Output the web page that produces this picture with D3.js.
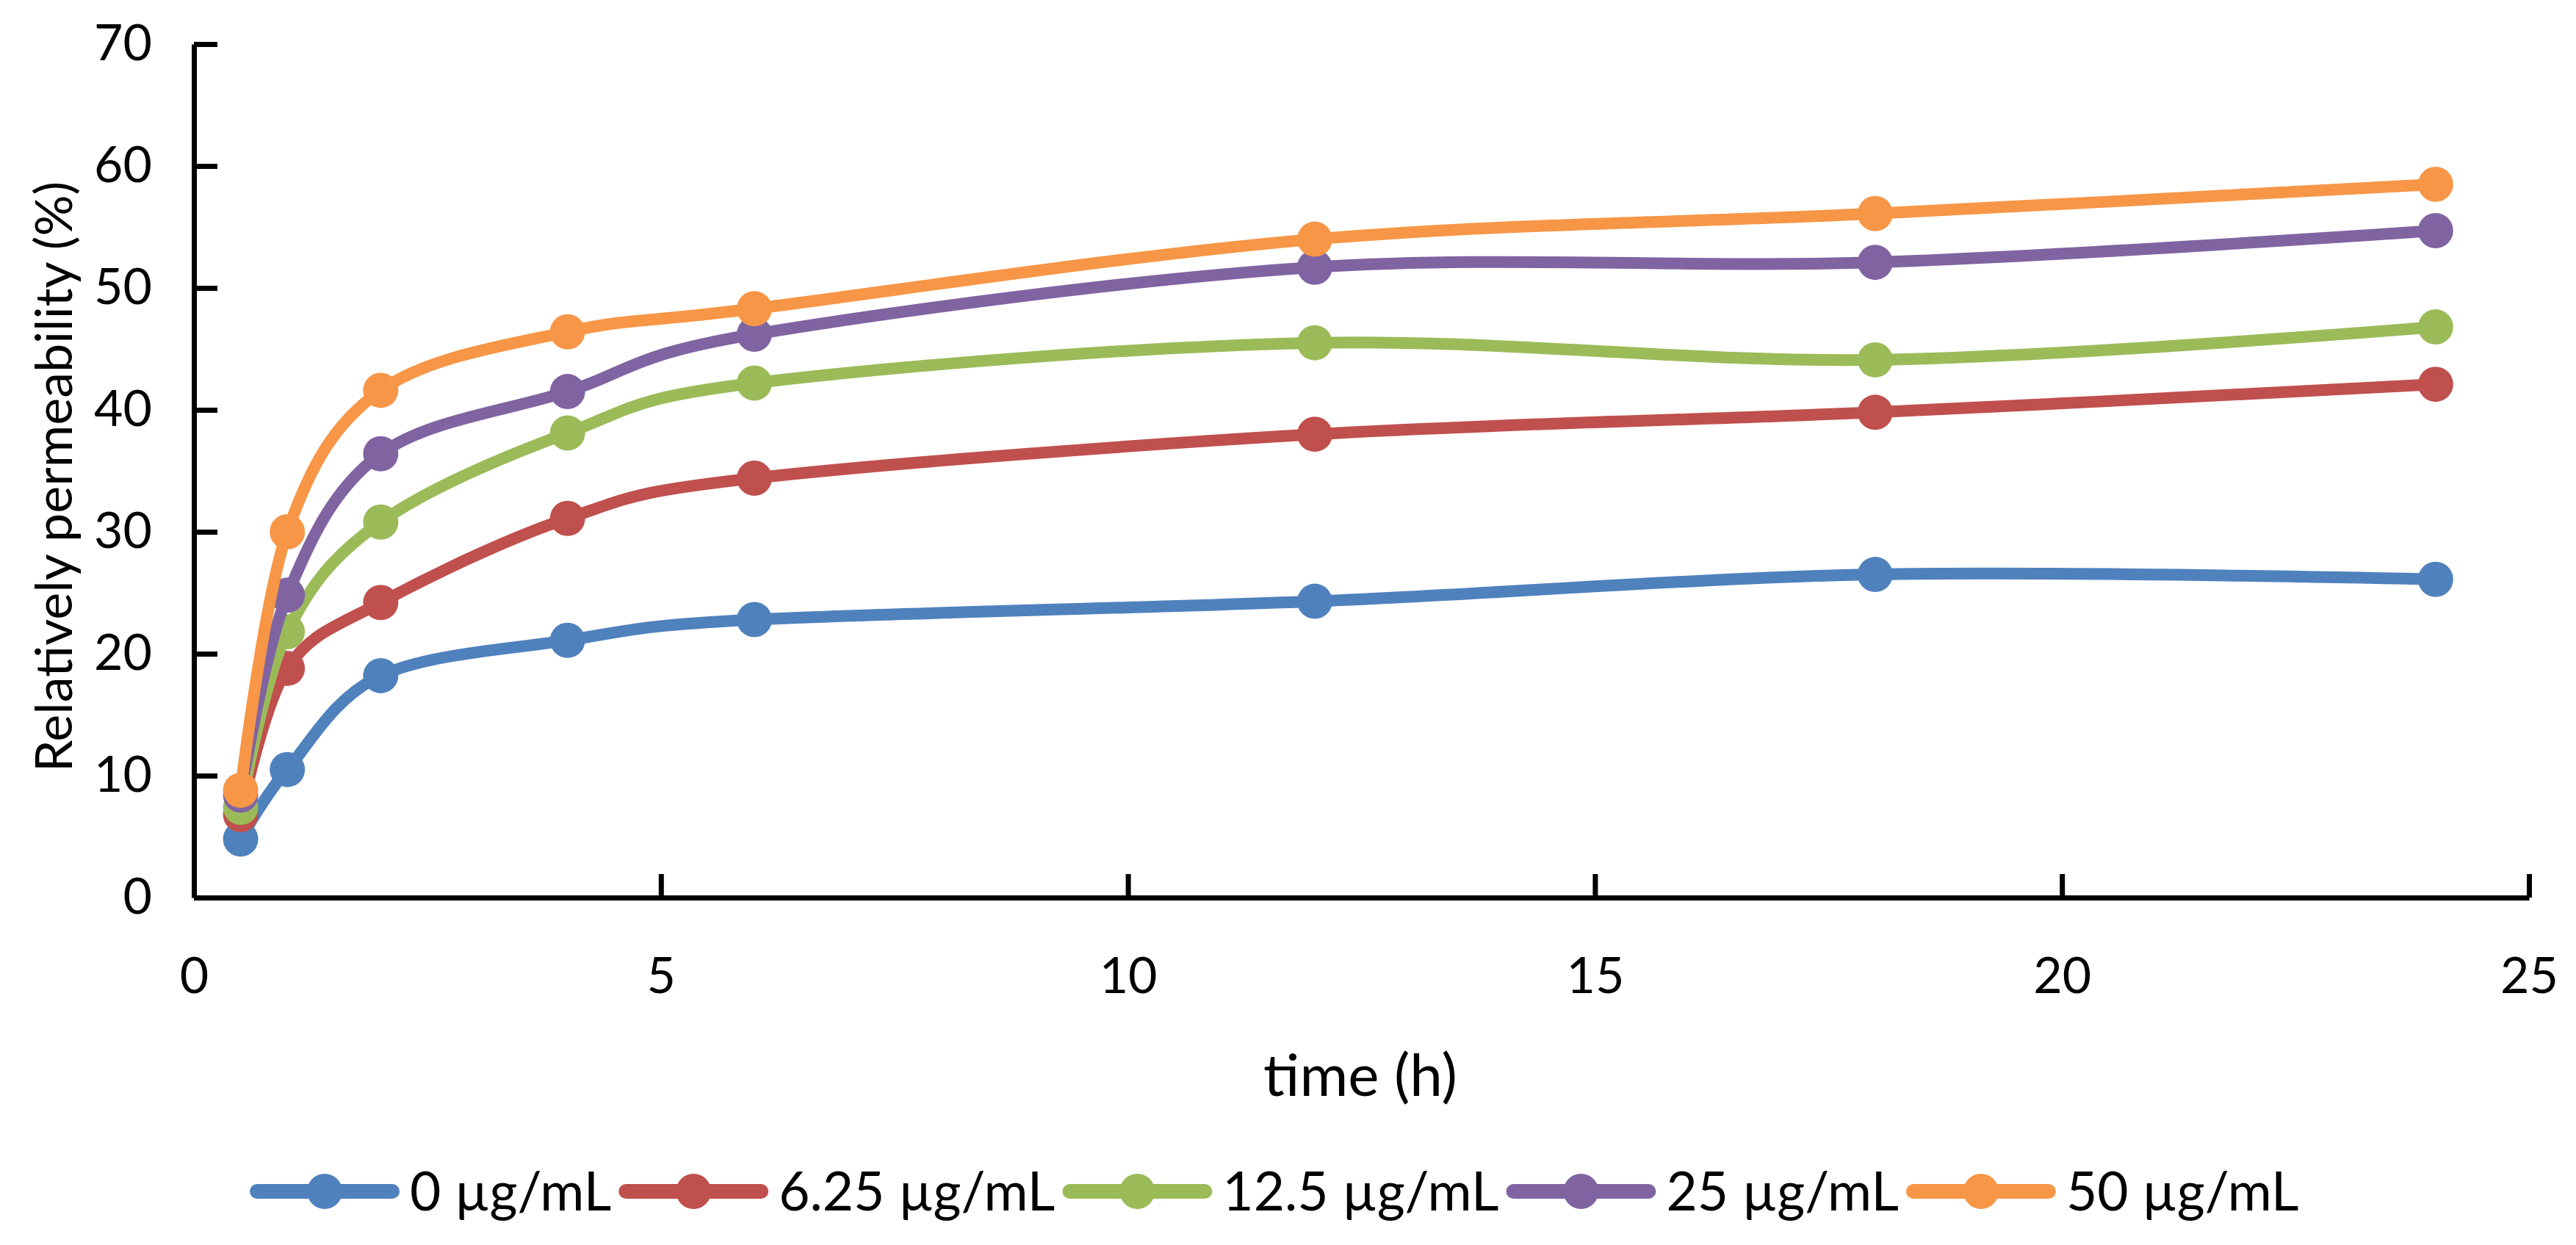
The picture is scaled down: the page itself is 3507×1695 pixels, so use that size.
<!DOCTYPE html>
<html>
<head>
<meta charset="utf-8">
<script src="https://cdn.jsdelivr.net/npm/d3@7"></script>
<style>
  html, body { margin: 0; padding: 0; background: #fff; }
  svg text { font-family: Lato, "Open Sans", "Liberation Sans", sans-serif; fill: #000; }
</style>
</head>
<body>
<svg id="chart" width="3507" height="1695"></svg>
<script>
// ---- data ----
const times = [0.5, 1, 2, 4, 6, 12, 18, 24];
const seriesNames = ["0 µg/mL", "6.25 µg/mL", "12.5 µg/mL", "25 µg/mL", "50 µg/mL"];
const conc0 = [4.8, 10.5, 18.2, 21.1, 22.8, 24.3, 26.5, 26.1];
const conc625 = [6.8, 18.8, 24.2, 31.1, 34.4, 38.0, 39.8, 42.1];
const conc125 = [7.4, 21.8, 30.8, 38.1, 42.2, 45.5, 44.1, 46.8];
const conc25 = [8.4, 24.8, 36.4, 41.5, 46.2, 51.7, 52.1, 54.7];
const conc50 = [8.8, 30.0, 41.6, 46.4, 48.3, 54.0, 56.1, 58.5];
const seriesValues = [conc0, conc625, conc125, conc25, conc50];
const seriesColors = ["#4F81BD", "#C0504D", "#9BBB59", "#8064A2", "#F79646"];
const xTicks = [0, 5, 10, 15, 20, 25];
const yTicks = [0, 10, 20, 30, 40, 50, 60, 70];
const xTitle = "time (h)";
const yTitle = "Relatively permeability (%)";

// ---- layout ----
const svg = d3.select("#chart");
const plotLeft = 264, plotRight = 3443, plotBottom = 1222, plotTop = 60;
const tickFont = 68, yTitleFont = 70, xTitleFont = 80, legendFont = 73;
const lineW = 16, markerR = 24;

const x = d3.scaleLinear().domain([0, 25]).range([plotLeft, plotRight]);
const y = d3.scaleLinear().domain([0, 70]).range([plotBottom, plotTop]);

// axes
const yAxis = d3.axisLeft(y).tickValues(yTicks).tickSizeInner(-32).tickSizeOuter(0).tickPadding(57);
const xAxis = d3.axisBottom(x).tickValues(xTicks).tickSizeInner(-32).tickSizeOuter(0).tickPadding(82);

const gy = svg.append("g").attr("transform", `translate(${plotLeft},0)`).call(yAxis);
const gx = svg.append("g").attr("transform", `translate(0,${plotBottom})`).call(xAxis);
[gx, gy].forEach(g => {
  g.select(".domain").attr("stroke", "#000").attr("stroke-width", 7);
  g.selectAll(".tick line").attr("stroke", "#000").attr("stroke-width", 7);
  g.selectAll(".tick text").attr("font-size", tickFont).attr("fill", "#000")
    .style("font-family", "Lato, 'Open Sans', sans-serif");
});

// axis titles
svg.append("text").attr("x", 1852).attr("y", 1492)
  .attr("text-anchor", "middle").attr("font-size", xTitleFont).text(xTitle);
svg.append("text").attr("transform", `translate(98,649) rotate(-90)`)
  .attr("text-anchor", "middle").attr("font-size", yTitleFont).text(yTitle);

// series
const line = d3.line().x(d => x(d[0])).y(d => y(d[1])).curve(d3.curveCardinal.tension(0));
seriesValues.forEach((vals, i) => {
  const pts = times.map((t, j) => [t, vals[j]]);
  const g = svg.append("g");
  g.append("path").attr("d", line(pts)).attr("fill", "none")
    .attr("stroke", seriesColors[i]).attr("stroke-width", lineW)
    .attr("stroke-linejoin", "round").attr("stroke-linecap", "round");
  g.selectAll("circle").data(pts).join("circle")
    .attr("cx", d => x(d[0])).attr("cy", d => y(d[1])).attr("r", markerR)
    .attr("fill", seriesColors[i]);
});

// legend
const legY = 1622;
let lx = 350;
const legend = svg.append("g");
seriesNames.forEach((name, i) => {
  const g = legend.append("g");
  g.append("line").attr("x1", lx).attr("x2", lx + 184).attr("y1", legY).attr("y2", legY)
    .attr("stroke", seriesColors[i]).attr("stroke-width", 20).attr("stroke-linecap", "round");
  g.append("circle").attr("cx", lx + 92).attr("cy", legY).attr("r", markerR).attr("fill", seriesColors[i]);
  const t = g.append("text").attr("x", lx + 208).attr("y", legY).attr("dy", "0.36em")
    .attr("font-size", legendFont).text(name);
  const w = t.node().getComputedTextLength();
  lx = lx + 208 + w + 20;
});
</script>
</body>
</html>
